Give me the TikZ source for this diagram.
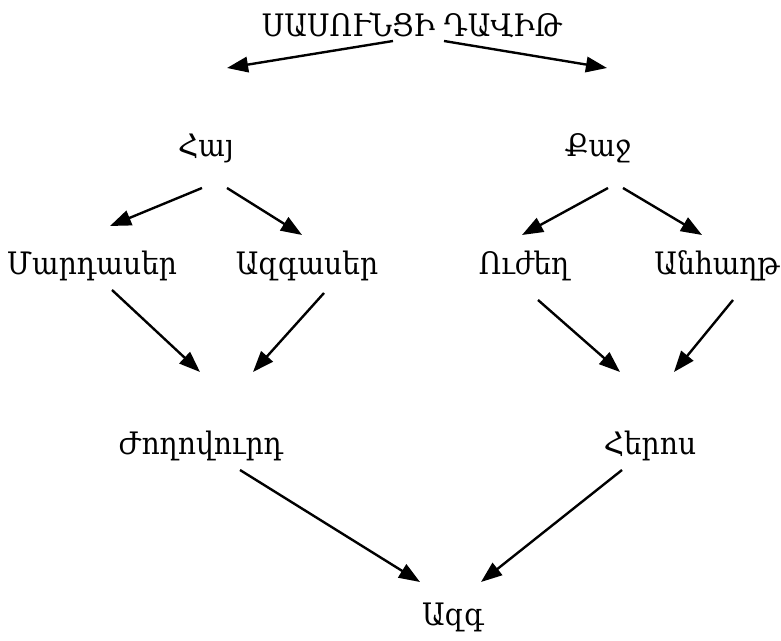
\documentclass[tikz,border=0pt]{standalone}
\usepackage{fontspec}
\setmainfont{DejaVu Serif}
\usetikzlibrary{arrows.meta}
\usetikzlibrary{positioning}

\begin{document}
\begin{tikzpicture}[
  > = {Triangle[length=15pt,width=11pt]},
  word/.style = {anchor=base, inner sep=0pt, yscale=1.1, font=\fontsize{20}{24}\selectfont},
  link/.style = {->, line width=1.7pt}
  ]
	\useasboundingbox (0,0) rectangle (19.525,16);

	\node[word] (dav) at (10.3,15.075) {ՍԱՍՈՒՆՑԻ ԴԱՎԻԹ};
	\node[word] (hay) at (5.15,12.075) {Հայ};
	\node[word] (kaj) at (14.95,12.075) {Քաջ};
	\node[word] (mard) at (2.3,9.125) {Մարդասեր};
	\node[word] (azgas) at (7.675,9.125) {Ազգասեր};
	\node[word] (uzh) at (13.1,9.125) {Ուժեղ};
	\node[word] (anh) at (17.925,9.125) {Անհաղթ};
	\node[word] (zhog) at (5.025,4.625) {Ժողովուրդ};
	\node[word] (her) at (16.25,4.625) {Հերոս};
	\node[word] (azg) at (11.325,0.375) {Ազգ};

	% free ends of the arrows
	\coordinate (dav-l) at (9.825,14.975);
	\coordinate (dav-r) at (11.1,14.975);
	\coordinate (hay-in) at (5.675,14.3);
	\coordinate (kaj-in) at (15.175,14.3);
	\coordinate (hay-l) at (5.05,11.3);
	\coordinate (hay-r) at (5.675,11.3);
	\coordinate (kaj-l) at (15.2,11.3);
	\coordinate (kaj-r) at (15.575,11.3);
	\coordinate (mard-in) at (2.75,10.35);
	\coordinate (azgas-in) at (7.55,10.125);
	\coordinate (uzh-in) at (13.05,10.125);
	\coordinate (anh-in) at (17.55,10.125);
	\coordinate (mard-out) at (2.8,8.75);
	\coordinate (azgas-out) at (8.1,8.675);
	\coordinate (uzh-out) at (13.45,8.5);
	\coordinate (anh-out) at (18.325,8.5);
	\coordinate (zhog-l) at (5.0,6.7);
	\coordinate (zhog-r) at (6.325,6.7);
	\coordinate (her-l) at (15.5,6.7);
	\coordinate (her-r) at (16.85,6.7);
	\coordinate (zhog-out) at (6.0,4.25);
	\coordinate (her-out) at (15.55,4.25);
	\coordinate (azg-l) at (10.5,1.45);
	\coordinate (azg-r) at (12.025,1.45);

	\draw[link] (dav-l) -- (hay-in);
	\draw[link] (dav-r) -- (kaj-in);
	\draw[link] (hay-l) -- (mard-in);
	\draw[link] (hay-r) -- (azgas-in);
	\draw[link] (kaj-l) -- (uzh-in);
	\draw[link] (kaj-r) -- (anh-in);
	\draw[link] (mard-out) -- (zhog-l);
	\draw[link] (azgas-out) -- (zhog-r);
	\draw[link] (uzh-out) -- (her-l);
	\draw[link] (anh-out) -- (her-r);
	\draw[link] (zhog-out) -- (azg-l);
	\draw[link] (her-out) -- (azg-r);

\end{tikzpicture}
\end{document}
